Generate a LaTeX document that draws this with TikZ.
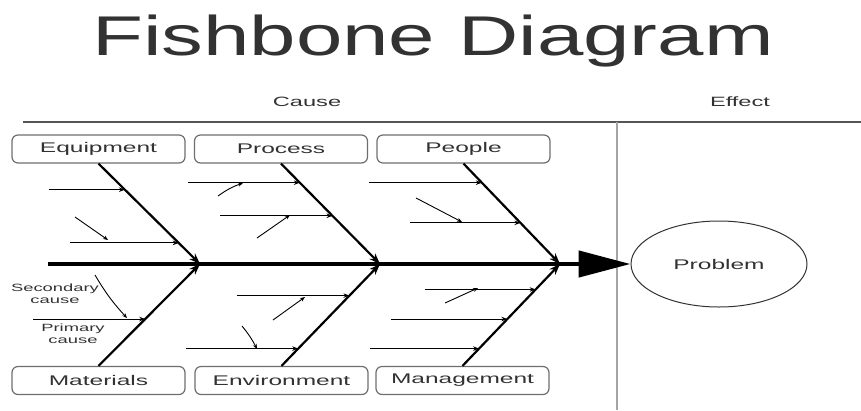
\documentclass[tikz,border=0pt]{standalone}
\usepackage{fontspec}
\setmainfont{Liberation Sans}
\usepackage{graphicx}
\usetikzlibrary{arrows.meta,calc,shapes.geometric}
\definecolor{ctext}{RGB}{50,50,50}
\definecolor{cbox}{RGB}{110,110,110}
\definecolor{crule}{RGB}{85,85,85}
\definecolor{csplit}{RGB}{165,165,165}
\newcommand{\wide}[1]{\scalebox{1.75}[1]{#1}}

\begin{document}
\begin{tikzpicture}[x=1pt,y=-1pt,>=Stealth,
  catbox/.style={draw=cbox,line width=1.2pt,rounded corners=6pt,minimum width=173pt,minimum height=28pt,inner sep=0pt,text=ctext,font=\fontsize{14}{16}\selectfont},
  rib/.style={line width=2.2pt,-{Stealth[length=11pt,width=8pt]}},
  primary/.style={line width=1pt,-{Stealth[length=6pt,width=4.5pt]}},
  secondary/.style={line width=0.9pt,-{Stealth[length=5pt,width=4pt]}},
  lbl/.style={text=ctext,font=\fontsize{10.5}{12.5}\selectfont,align=center,inner sep=0pt}]
 \useasboundingbox (0,0) rectangle (861,410);
 % ---- title and header ----
 \node[anchor=base,text=ctext] (title) at (433,55){\scalebox{1.49}[1]{\fontsize{56}{60}\selectfont Fishbone Diagram}};
 \coordinate (hl) at (23,122); \coordinate (hr) at (861,122);
 \draw[crule,line width=1.6pt] (hl) -- (hr);
 \node[text=ctext,font=\fontsize{13.5}{15}\selectfont] (cause) at (307,102){\wide{Cause}};
 \node[text=ctext,font=\fontsize{13.5}{15}\selectfont] (effect) at (740,102){\wide{Effect}};
 \coordinate (vt) at (617,122); \coordinate (vb) at (617,410);
 \draw[csplit,line width=2pt] (vt) -- (vb);
 % ---- category boxes ----
 \node[catbox] (equip) at (98.5,149){\wide{Equipment}};
 \node[catbox] (process) at (281,149){\wide{Process}};
 \node[catbox] (people) at (463.5,149){\wide{People}};
 \node[catbox] (materials) at (98.5,380.5){\wide{Materials}};
 \node[catbox] (env) at (281.5,380.5){\wide{Environment}};
 \node[catbox] (mgmt) at (462.5,380.5){\wide{Management}};
 % ---- effect ----
 \node[ellipse,draw=ctext,line width=1pt,minimum width=176pt,minimum height=86pt,text=ctext,font=\fontsize{14}{16}\selectfont] (problem) at (719,264){\wide{Problem}};
 % ---- spine and ribs ----
 \coordinate (tail) at (48,264);
 \coordinate (j1) at (200,264); \coordinate (j2) at (380,264); \coordinate (j3) at (560,264);
 \draw[line width=4.5pt,-{Triangle[length=52pt,width=26pt]}] (tail) -- (problem.west);
 \foreach \b/\a/\j in {equip/south/j1, process/south/j2, people/south/j3, materials/north/j1, env/north/j2, mgmt/north/j3}
   \draw[rib] (\b.\a) -- (\j);
 % ---- primary causes ----
 \foreach \n/\b/\a/\j/\f/\len in {p1/equip/south/j1/0.26/76, p2/equip/south/j1/0.79/109,
   p3/process/south/j2/0.19/112, p4/process/south/j2/0.52/112,
   p5/people/south/j3/0.19/113, p6/people/south/j3/0.59/110,
   p7/materials/north/j1/0.46/112, p8/env/north/j2/0.69/112, p9/env/north/j2/0.17/112,
   p10/mgmt/north/j3/0.75/111, p11/mgmt/north/j3/0.46/116, p12/mgmt/north/j3/0.17/109} {
   \coordinate (\n-t) at ($(\b.\a)!\f!(\j)$);
   \coordinate (\n-s) at ($(\n-t)+(-\len,0)$);
   \draw[primary] (\n-s) -- (\n-t);}
 % ---- secondary causes ----
 \foreach \n/\xa/\ya/\xb/\yb/\bb in {s1/75/217/108/240/0, s2/218/196/243/183/8, s3/257/238/290/215/0,
   s4/416/198/462/222/0, s5/95/275/127/318/-6, s6/273/320/305/297/0, s7/242/326/257/349/6, s8/445/303/478/288/0} {
   \coordinate (\n-a) at (\xa,\ya); \coordinate (\n-b) at (\xb,\yb);
   \draw[secondary] (\n-a) to[bend left=\bb] (\n-b);}
 % ---- legend labels ----
 \node[lbl] (seclbl) at (55,293.5){\wide{Secondary}\\\wide{cause}};
 \node[lbl] (primlbl) at (73,333.5){\wide{Primary}\\\wide{cause}};
\end{tikzpicture}
\end{document}
